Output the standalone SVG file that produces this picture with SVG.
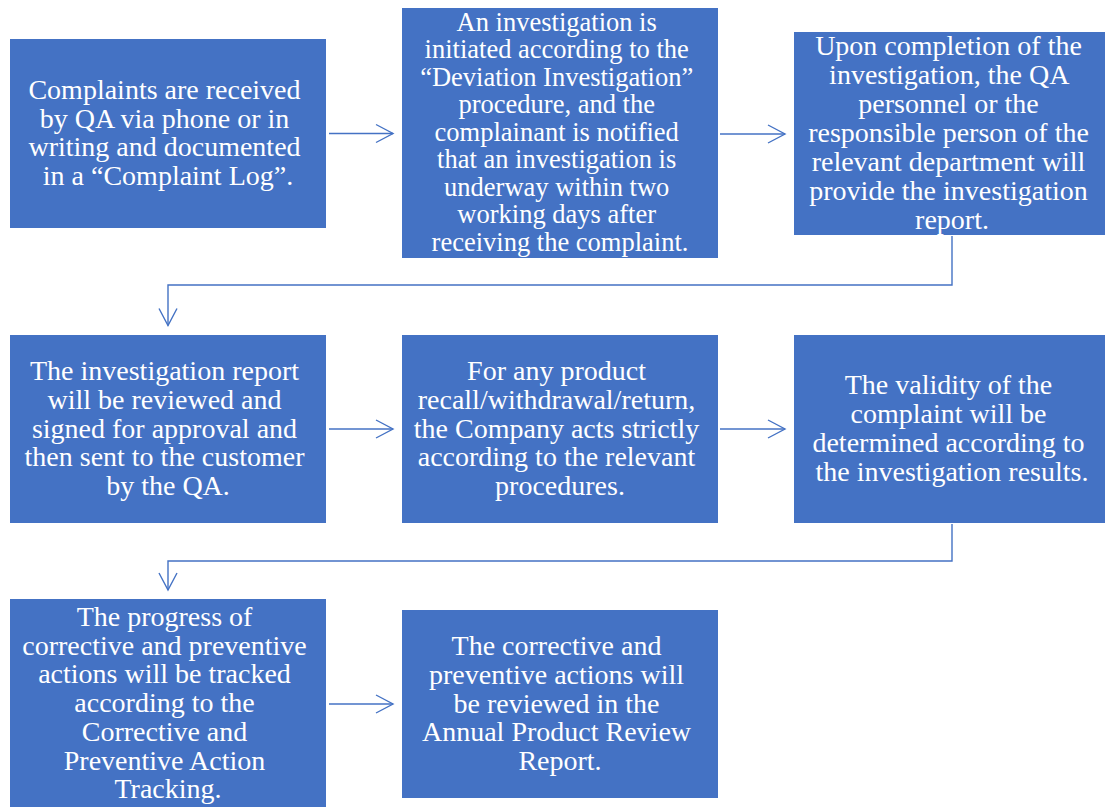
<svg xmlns="http://www.w3.org/2000/svg" width="1105" height="807" viewBox="0 0 1105 807">
  <style>
    .box { fill: #4472C4; }
    .lbl { fill: #ffffff; font-size: 28px; text-anchor: middle; }
    .lbl.sm { font-size: 26.5px; }
    .conn { fill: none; stroke: #4472C4; stroke-width: 1.4; }
  </style>
  <defs>
    <marker id="chev" markerUnits="userSpaceOnUse" markerWidth="24" markerHeight="24" viewBox="-20 -12 24 24" refX="0" refY="0" orient="auto">
      <path d="M-17,-9 L0,0 L-17,9" fill="none" stroke="#4472C4" stroke-width="1.4"/>
    </marker>
  </defs>
  <rect width="1105" height="807" fill="#ffffff"/>

  <g id="connectors">
    <path class="conn" d="M329,133.5 H393" marker-end="url(#chev)"/>
    <path class="conn" d="M720,134 H785" marker-end="url(#chev)"/>
    <path class="conn" d="M952,236 V285 H168 V325.5" marker-end="url(#chev)"/>
    <path class="conn" d="M329,429 H393" marker-end="url(#chev)"/>
    <path class="conn" d="M720,429 H785" marker-end="url(#chev)"/>
    <path class="conn" d="M952,524 V561 H168 V590" marker-end="url(#chev)"/>
    <path class="conn" d="M329,704 H393" marker-end="url(#chev)"/>
  </g>

  <g id="nodes" font-family="Liberation Serif, Times New Roman, serif">
  <g id="receive-complaint">
    <rect class="box" x="10" y="39" width="316" height="189"/>
    <text class="lbl" x="168">
      <tspan x="168" y="99">Complaints are received</tspan>
      <tspan x="168" y="127.7">by QA via phone or in</tspan>
      <tspan x="168" y="156.4">writing and documented</tspan>
      <tspan x="168" y="185.1">in a “Complaint Log”.</tspan>
    </text>
  </g>

  <g id="start-investigation">
    <rect class="box" x="402" y="8" width="316" height="250"/>
    <text class="lbl sm" x="560">
      <tspan x="560" y="30.5">An investigation is</tspan>
      <tspan x="560" y="58">initiated according to the</tspan>
      <tspan x="560" y="85.5">“Deviation Investigation”</tspan>
      <tspan x="560" y="113">procedure, and the</tspan>
      <tspan x="560" y="140.5">complainant is notified</tspan>
      <tspan x="560" y="168">that an investigation is</tspan>
      <tspan x="560" y="195.5">underway within two</tspan>
      <tspan x="560" y="223">working days after</tspan>
      <tspan x="560" y="250.5">receiving the complaint.</tspan>
    </text>
  </g>

  <g id="investigation-report">
    <rect class="box" x="794" y="32" width="316" height="203"/>
    <text class="lbl" x="952">
      <tspan x="952" y="55">Upon completion of the</tspan>
      <tspan x="952" y="84">investigation, the QA</tspan>
      <tspan x="952" y="113">personnel or the</tspan>
      <tspan x="952" y="142">responsible person of the</tspan>
      <tspan x="952" y="171">relevant department will</tspan>
      <tspan x="952" y="200">provide the investigation</tspan>
      <tspan x="952" y="229">report.</tspan>
    </text>
  </g>

  <g id="review-and-send">
    <rect class="box" x="10" y="335" width="316" height="188"/>
    <text class="lbl" x="168">
      <tspan x="168" y="380">The investigation report</tspan>
      <tspan x="168" y="408.8">will be reviewed and</tspan>
      <tspan x="168" y="437.6">signed for approval and</tspan>
      <tspan x="168" y="466.4">then sent to the customer</tspan>
      <tspan x="168" y="495.2">by the QA.</tspan>
    </text>
  </g>

  <g id="recall-procedures">
    <rect class="box" x="402" y="335" width="316" height="188"/>
    <text class="lbl" x="560">
      <tspan x="560" y="380">For any product</tspan>
      <tspan x="560" y="408.8">recall/withdrawal/return,</tspan>
      <tspan x="560" y="437.6">the Company acts strictly</tspan>
      <tspan x="560" y="466.4">according to the relevant</tspan>
      <tspan x="560" y="495.2">procedures.</tspan>
    </text>
  </g>

  <g id="validity">
    <rect class="box" x="794" y="335" width="316" height="188"/>
    <text class="lbl" x="952">
      <tspan x="952" y="394.3">The validity of the</tspan>
      <tspan x="952" y="423.1">complaint will be</tspan>
      <tspan x="952" y="451.9">determined according to</tspan>
      <tspan x="952" y="480.7">the investigation results.</tspan>
    </text>
  </g>

  <g id="capa-tracking">
    <rect class="box" x="10" y="599" width="316" height="216"/>
    <text class="lbl" x="168">
      <tspan x="168" y="626">The progress of</tspan>
      <tspan x="168" y="654.7">corrective and preventive</tspan>
      <tspan x="168" y="683.4">actions will be tracked</tspan>
      <tspan x="168" y="712.1">according to the</tspan>
      <tspan x="168" y="740.8">Corrective and</tspan>
      <tspan x="168" y="769.5">Preventive Action</tspan>
      <tspan x="168" y="798.2">Tracking.</tspan>
    </text>
  </g>

  <g id="annual-review">
    <rect class="box" x="402" y="610" width="316" height="188"/>
    <text class="lbl" x="560">
      <tspan x="560" y="654.9">The corrective and</tspan>
      <tspan x="560" y="683.7">preventive actions will</tspan>
      <tspan x="560" y="712.5">be reviewed in the</tspan>
      <tspan x="560" y="741.3">Annual Product Review</tspan>
      <tspan x="560" y="770.1">Report.</tspan>
    </text>
  </g>
  </g>
</svg>
